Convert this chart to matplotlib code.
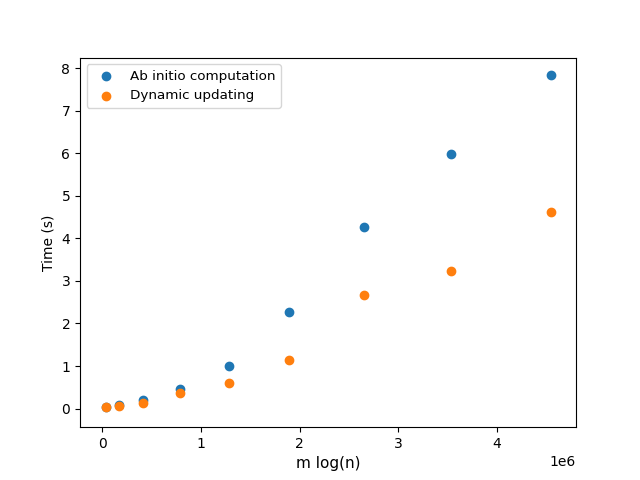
import matplotlib
matplotlib.use("Agg")
import matplotlib.pyplot as plt

x_vals = [0.038e6, 0.173e6, 0.417e6, 0.783e6, 1.28e6, 1.89e6, 2.652e6, 3.537e6, 4.553e6]
ab_initio = [0.03, 0.09, 0.20, 0.46, 1.00, 2.27, 4.27, 5.99, 7.835]
dynamic = [0.03, 0.06, 0.14, 0.36, 0.60, 1.14, 2.67, 3.23, 4.61]

fig, ax = plt.subplots(figsize=(6.4, 4.8), dpi=100)
ax.scatter(x_vals, ab_initio, label="Ab initio computation")
ax.scatter(x_vals, dynamic, label="Dynamic updating")
ax.set_xlim(-0.2266e6, 4.804e6)
ax.set_ylim(-0.438, 8.25)
ax.set_xlabel("m log(n)", fontsize=11)
ax.set_ylabel("Time (s)")
ax.legend(loc="upper left", fontsize=9.7)
fig.savefig("out.png")
